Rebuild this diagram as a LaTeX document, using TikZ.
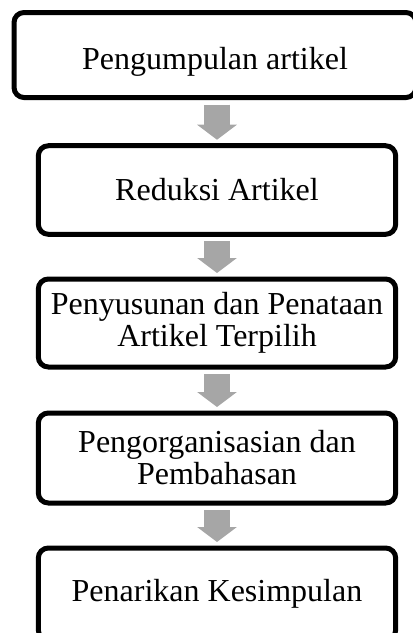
\documentclass[tikz,border=0pt]{standalone}
\usepackage{fontspec}
\setmainfont{Liberation Serif}
\usetikzlibrary{arrows.meta}

\definecolor{arrowgray}{RGB}{166,166,166}

\tikzset{
    stage/.style={draw, line width=3.75pt, rounded corners=7.5pt,
        minimum width=268pt, minimum height=66pt, align=center,
        inner sep=0pt, outer sep=0pt, font=\fontsize{24}{24}\selectfont},
    flow/.style={draw=arrowgray, line width=19.5pt,
        -{Triangle[width=29.25pt,length=11.25pt]},
        shorten <=5.25pt, shorten >=4.5pt}
}

\begin{document}
\begin{tikzpicture}[x=0.75pt,y=-0.75pt]
\useasboundingbox (0,0) rectangle (412,633);
% nodes

\node[stage, minimum width=301.5pt, minimum height=63.75pt] (kumpul) at (215,55)
    {\raisebox{-5pt}[\height][\depth]{Pengumpulan artikel}};
\node[stage, minimum height=66.4pt] (reduksi) at (217,190) {Reduksi Artikel};
\node[stage] (susun) at (217,323) {Penyusunan dan Penataan\\Artikel Terpilih};
\node[stage, minimum height=67.5pt] (organisasi) at (217,458) {Pengorganisasian dan\\Pembahasan};
\node[stage, minimum height=69pt] (simpul) at (217,594) {Penarikan Kesimpulan};

% arrows
\foreach \a/\b in {kumpul/reduksi, reduksi/susun, susun/organisasi, organisasi/simpul}
{
    \draw[flow] (\b.north |- \a.south) -- (\b.north);
}

\end{tikzpicture}
\end{document}
